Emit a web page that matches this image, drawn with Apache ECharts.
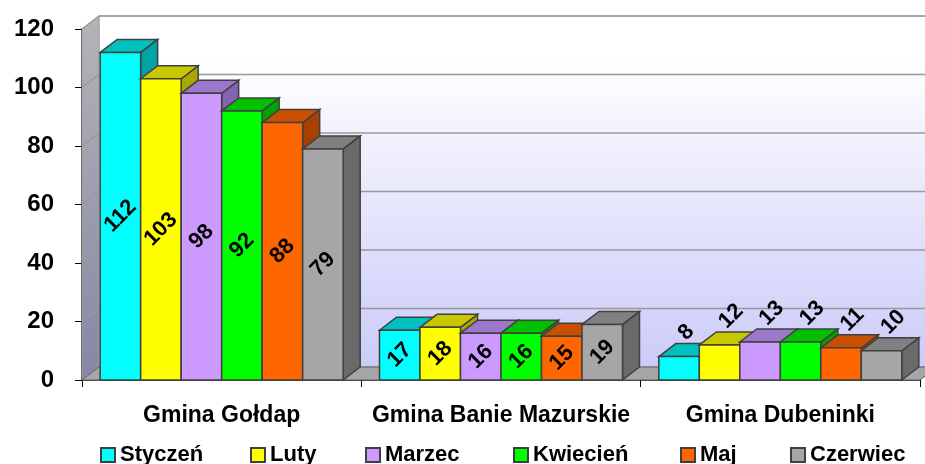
<!DOCTYPE html>
<html>
<head>
<meta charset="utf-8">
<script src="https://cdn.jsdelivr.net/npm/echarts@6/dist/echarts.min.js"></script>
<style>
  html, body { margin: 0; padding: 0; background: #fff; }
  #chart { width: 925px; height: 464px; }
</style>
</head>
<body>
<div id="chart"></div>
<script>
let categories = ['Gmina Gołdap', 'Gmina Banie Mazurskie', 'Gmina Dubeninki'];
let months = ['Styczeń', 'Luty', 'Marzec', 'Kwiecień', 'Maj', 'Czerwiec'];
let styczen = [112, 17, 8];
let luty = [103, 18, 12];
let marzec = [98, 16, 13];
let kwiecien = [92, 16, 13];
let maj = [88, 15, 11];
let czerwiec = [79, 19, 10];
let yTicks = [20, 40, 60, 80, 100, 120];

let values = [styczen, luty, marzec, kwiecien, maj, czerwiec];
let frontColors = ['#00ffff', '#ffff00', '#cc99ff', '#00ff00', '#ff6600', '#a6a6a6'];
let topColors = ['#00c0c0', '#c8c800', '#9c78cc', '#00c000', '#c85000', '#808080'];
let sideColors = ['#00a4a4', '#a8a800', '#8462b4', '#00a400', '#a84000', '#6a6a6a'];
// left edge of each legend marker
let legendLeft = [95, 245, 360, 508, 675, 785];

const DX = 17, DY = 13;
const FONT = 'Liberation Sans';

let chart = echarts.init(document.getElementById('chart'));

// walls, floor and grid lines behind the bars
const renderWalls = (params, api) => {
  let cs = params.coordSys;
  let x0 = cs.x, x1 = cs.x + cs.width;
  let yb = api.coord([0, 0])[1];
  let yt = api.coord([0, 120])[1];
  let children = [];
  children.push({
    type: 'polygon',
    shape: { points: [[x0 + DX, yt - DY], [x1 + DX, yt - DY], [x1 + DX, yb - DY], [x0 + DX, yb - DY]] },
    style: {
      fill: new echarts.graphic.LinearGradient(0, 0, 0, 1, [
        { offset: 0, color: '#ffffff' },
        { offset: 0.12, color: '#ffffff' },
        { offset: 1, color: '#cbcbf9' }
      ]),
      stroke: '#a0a0a0', lineWidth: 1
    }
  });
  children.push({
    type: 'polygon',
    shape: { points: [[x0, yt], [x0 + DX, yt - DY], [x0 + DX, yb - DY], [x0, yb]] },
    style: {
      fill: new echarts.graphic.LinearGradient(0, 0, 0, 1, [
        { offset: 0, color: '#b4b4b8' },
        { offset: 1, color: '#8686a6' }
      ]),
      stroke: '#a0a0a0', lineWidth: 1
    }
  });
  yTicks.forEach((t) => {
    let y = api.coord([0, t])[1];
    children.push({
      type: 'polyline',
      shape: { points: [[x0, y], [x0 + DX, y - DY], [x1 + DX, y - DY]] },
      style: { stroke: '#999999', lineWidth: 1.5, fill: null }
    });
  });
  children.push({
    type: 'polygon',
    shape: { points: [[x0, yb], [x1, yb], [x1 + DX, yb - DY], [x0 + DX, yb - DY]] },
    style: { fill: '#a6a6a6', stroke: '#606060', lineWidth: 1 }
  });
  return { type: 'group', children: children };
};

const barItem = (si) => (params, api) => {
  let ci = api.value(0);
  let v = api.value(1);
  let band = api.size([1, 0])[0];
  let c = api.coord([ci, v]);
  let base = api.coord([ci, 0]);
  let w = band * 0.145;
  let x0 = c[0] - band / 2 + band * 0.065 + si * w;
  let yTop = c[1], yBot = base[1];
  let line = { stroke: '#404040', lineWidth: 1.5 };
  let children = [
    {
      type: 'polygon',
      shape: { points: [[x0 + w, yBot], [x0 + w + DX, yBot - DY], [x0 + w + DX, yTop - DY], [x0 + w, yTop]] },
      style: Object.assign({ fill: sideColors[si] }, line)
    },
    {
      type: 'polygon',
      shape: { points: [[x0, yTop], [x0 + DX, yTop - DY], [x0 + w + DX, yTop - DY], [x0 + w, yTop]] },
      style: Object.assign({ fill: topColors[si] }, line)
    },
    {
      type: 'rect',
      shape: { x: x0, y: yTop, width: w, height: yBot - yTop },
      style: Object.assign({ fill: frontColors[si] }, line)
    }
  ];
  // small bars get their label above the top
  let inside = (yBot - yTop) > 42;
  children.push({
    type: 'text',
    x: inside ? x0 + w / 2 : x0 + w / 2 + 3,
    y: inside ? (yTop + yBot) / 2 : yTop - 20,
    rotation: Math.PI / 4,
    z2: 100,
    style: {
      text: String(v),
      fill: '#000',
      font: 'bold 22px "' + FONT + '"',
      align: inside ? 'center' : 'left',
      verticalAlign: 'middle'
    }
  });
  return { type: 'group', children: children };
};

let series = [{
  name: 'walls',
  type: 'custom',
  renderItem: renderWalls,
  data: [[0, 0]],
  silent: true,
  z: 1
}];

months.forEach((m, si) => {
  series.push({
    name: m,
    type: 'custom',
    renderItem: barItem(si),
    itemStyle: { color: frontColors[si], borderColor: '#404040', borderWidth: 1 },
    data: values[si].map((v, ci) => [ci, v]),
    z: 2
  });
});

let legends = months.map((m, i) => ({
  data: [m],
  left: legendLeft[i],
  top: 439,
  itemWidth: 14,
  itemHeight: 14,
  icon: 'rect',
  textStyle: { fontFamily: FONT, fontWeight: 'bold', fontSize: 22, color: '#000' }
}));

let option = {
  animation: false,
  grid: { left: 82, right: 5, top: 29, bottom: 84 },
  legend: legends,
  xAxis: {
    type: 'category',
    data: categories,
    axisLine: { show: true, lineStyle: { color: '#000', width: 1.5 } },
    axisTick: { show: true, length: 7, lineStyle: { color: '#000' } },
    axisLabel: { interval: 0, fontFamily: FONT, fontWeight: 'bold', fontSize: 23, color: '#000', margin: 24 }
  },
  yAxis: {
    type: 'value',
    min: 0,
    max: 120,
    interval: 20,
    axisLine: { show: true, lineStyle: { color: '#000', width: 1.5 } },
    axisTick: { show: true, length: 7, lineStyle: { color: '#000' } },
    splitLine: { show: false },
    axisLabel: { fontFamily: FONT, fontWeight: 'bold', fontSize: 24, color: '#000', margin: 28 }
  },
  series: series
};

chart.setOption(option);
</script>
</body>
</html>
